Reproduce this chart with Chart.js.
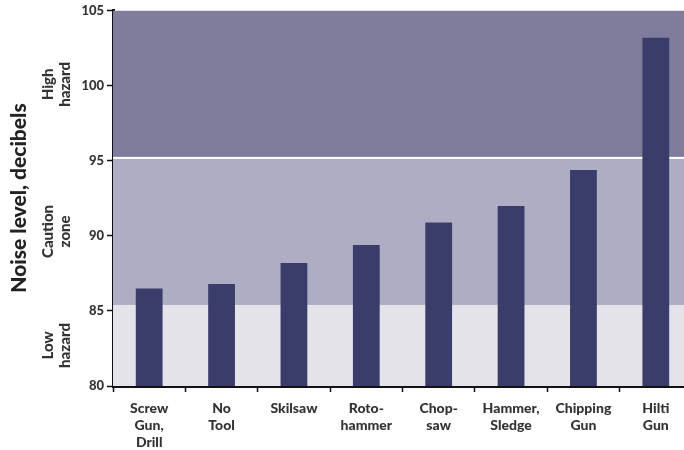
<!DOCTYPE html>
<html lang="en">
<head>
  <meta charset="UTF-8">
  <title>Noise level by tool</title>
  <style>
    html, body {
      margin: 0;
      padding: 0;
      background: white;
      overflow: hidden;
    }
    .chart-container {
      position: relative;
      width: 692px;
      height: 450px;
    }
  </style>
</head>
<body>
  <div class="chart-container">
    <canvas id="noise-chart"></canvas>
  </div>

  <script src="https://cdn.jsdelivr.net/npm/chart.js@4.4.0/dist/chart.umd.min.js"></script>
  <script>
    const TOOLS = [
      ['Screw', 'Gun,', 'Drill'],
      ['No', 'Tool'],
      'Skilsaw',
      ['Roto-', 'hammer'],
      ['Chop-', 'saw'],
      ['Hammer,', 'Sledge'],
      ['Chipping', 'Gun'],
      ['Hilti', 'Gun']
    ];
    const NOISE_DB = [86.5, 86.8, 88.2, 89.4, 90.9, 92.0, 94.4, 103.2];

    const ZONE_NAMES = [['Low', 'hazard'], ['Caution', 'zone'], ['High', 'hazard']];
    const ZONE_FROM = [80, 85.4, 95.2];
    const ZONE_TO = [85.4, 95.2, 105];
    const ZONE_COLORS = ['#e4e3ea', '#aeadc4', '#7f7d9b'];

    const FONT = 'Lato, "Open Sans", sans-serif';
    const TEXT_COLOR = '#333';

    // shaded hazard bands behind the bars, plus labels in the left margin
    const zonesPlugin = {
      id: 'zones',
      beforeDatasetsDraw(chart) {
        const { ctx, chartArea, scales: { y } } = chart;
        ctx.save();
        ZONE_FROM.forEach((from, i) => {
          const top = y.getPixelForValue(ZONE_TO[i]);
          const bottom = y.getPixelForValue(from);
          ctx.fillStyle = ZONE_COLORS[i];
          ctx.fillRect(chartArea.left, top, chartArea.right - chartArea.left, bottom - top);
        });
        // white divider at the high hazard boundary
        const yHigh = y.getPixelForValue(ZONE_FROM[2]);
        ctx.fillStyle = 'white';
        ctx.fillRect(chartArea.left, yHigh - 1, chartArea.right - chartArea.left, 2);
        ctx.restore();
      },
      afterDraw(chart) {
        const { ctx, scales: { y } } = chart;
        ctx.save();
        ctx.fillStyle = TEXT_COLOR;
        ctx.textAlign = 'center';
        ctx.textBaseline = 'middle';

        ZONE_NAMES.forEach((lines, i) => {
          const cy = (y.getPixelForValue(ZONE_FROM[i]) + y.getPixelForValue(ZONE_TO[i])) / 2;
          ctx.font = '900 15px ' + FONT;
          lines.forEach((line, j) => {
            ctx.save();
            ctx.translate(48 + j * 17, cy);
            ctx.rotate(-Math.PI / 2);
            ctx.fillText(line, 0, 0);
            ctx.restore();
          });
        });

        ctx.font = '900 21px ' + FONT;
        ctx.fillStyle = '#222';
        ctx.translate(19, 198);
        ctx.rotate(-Math.PI / 2);
        ctx.fillText('Noise level, decibels', 0, 0);
        ctx.restore();
      }
    };

    const ctx = document.getElementById('noise-chart');
    new Chart(ctx, {
      type: 'bar',
      data: {
        labels: TOOLS,
        datasets: [{
          data: NOISE_DB,
          backgroundColor: '#3a3c6a',
          barPercentage: 0.37,
          categoryPercentage: 1
        }]
      },
      plugins: [zonesPlugin],
      options: {
        responsive: true,
        maintainAspectRatio: false,
        animation: false,
        layout: {
          padding: { top: 10, right: 0, bottom: 0, left: 0 }
        },
        plugins: {
          legend: { display: false },
          tooltip: { enabled: false }
        },
        scales: {
          x: {
            grid: {
              offset: true,
              drawOnChartArea: false,
              drawTicks: true,
              tickLength: 6,
              tickColor: '#111',
              tickWidth: 1.5
            },
            border: { display: true, color: '#111', width: 3 },
            ticks: {
              color: TEXT_COLOR,
              font: { family: FONT, weight: '900', size: 14, lineHeight: 1.2 },
              padding: 8,
              maxRotation: 0,
              autoSkip: false
            },
            afterFit: (scale) => { scale.height = 64; }
          },
          y: {
            min: 80,
            max: 105,
            grid: {
              drawOnChartArea: false,
              drawTicks: true,
              tickLength: 6,
              tickColor: '#111',
              tickWidth: 1.5
            },
            border: { display: true, color: '#111', width: 3 },
            ticks: {
              stepSize: 5,
              color: TEXT_COLOR,
              font: { family: FONT, weight: '900', size: 13 },
              padding: 3
            },
            afterFit: (scale) => { scale.width = 113; }
          }
        }
      }
    });
  </script>
</body>
</html>
